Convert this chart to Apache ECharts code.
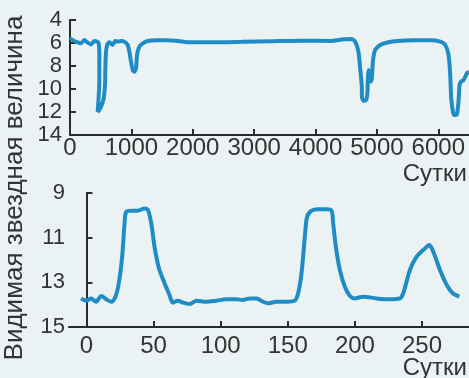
<!DOCTYPE html>
<html>
<head>
<meta charset="utf-8">
<script src="https://cdn.jsdelivr.net/npm/echarts@6/dist/echarts.min.js"></script>
<style>
html,body{margin:0;padding:0;background:#ebf2f4;}
#chart{width:469px;height:378px;}
</style>
</head>
<body>
<div id="chart"></div>
<script>
// Top panel: days vs apparent magnitude
const topDays = [0,16,70,125,179,234,288,342,397,462,478,478,462,451,478,521,549,570,576,587,608,641,696,734,777,831,886,940,967,994,1022,1049,1076,1092,1130,1185,1266,1402,1565,1728,1837,1945,2108,2380,2800,3300,3800,4238,4455,4591,4645,4699,4727,4755,4755,4781,4825,4846,4852,4862,4879,4901,4918,4934,4971,5053,5189,5325,5596,5868,6031,6113,6167,6194,6210,6238,6259,6303,6329,6346,6368,6411,6470,6500];
const topMag  = [5.7,5.65,5.83,5.94,6.03,5.74,5.97,6.12,5.83,5.94,7.04,9.36,11.1,11.97,11.83,11.33,10.8,9.65,8.2,6.75,6.12,5.94,6.17,5.83,5.88,5.83,5.88,6.17,6.75,7.62,8.35,8.5,8.2,7.04,6.32,6.03,5.83,5.77,5.77,5.8,5.88,5.94,5.94,5.94,5.9,5.85,5.8,5.83,5.68,5.65,5.88,6.75,8.2,9.94,10.67,11.04,10.96,10.23,9.07,8.35,8.93,9.36,9.07,7.62,6.61,6.17,5.94,5.83,5.77,5.77,5.88,6.17,7.04,8.78,10.8,11.97,12.26,12.2,11.1,9.65,9.36,9.22,8.6,8.5];
const topXTicks = [0,1000,2000,3000,4000,5000,6000];

// Bottom panel
const botDays = [-4,0,3.5,7.2,11,14.7,18.4,21.6,24.1,26.6,28.4,29.6,33.3,38.3,43.3,45.8,48.3,50.7,54,58.2,61.9,64.4,68.1,71.9,76.9,81.9,89.3,96.8,104.3,111.7,116.6,121.6,126.6,131.6,135.3,141.6,149,155.2,157.7,160.2,162.7,164.4,167.7,172.6,178.9,182.6,183.8,185.8,188.8,192.5,196.3,200,206.2,216.2,226.1,233.6,236,241,246,252.2,255.4,258.4,263.4,268.4,272.9,277.8];
const botMag  = [13.72,13.82,13.72,13.87,13.61,13.76,13.87,13.64,13.04,11.85,10.36,9.84,9.79,9.79,9.69,9.76,10.36,11.4,12.37,13.04,13.57,13.91,13.82,13.91,13.97,13.82,13.87,13.82,13.76,13.76,13.79,13.72,13.72,13.87,13.94,13.87,13.87,13.82,13.49,12.6,10.96,10.06,9.79,9.73,9.73,9.79,10.36,11.4,12.45,13.2,13.61,13.72,13.64,13.72,13.76,13.72,13.49,12.45,11.85,11.48,11.33,11.63,12.45,13.12,13.49,13.64];
const botXTicks = [0,50,100,150,200,250];

const yTitle = 'Видимая звездная величина';
const xTitle = 'Сутки';

const lineColor = '#1f8cc6';
const axisColor = '#2b2b2b';
const textColor = '#333333';
const font = 'Liberation Sans, Arial, sans-serif';

function zip(a,b){ return a.map((v,i)=>[v,b[i]]); }
const plain = v => String(v);

const axisLineStyle = {show:true, lineStyle:{color:axisColor, width:2}};
const tickStyle = {show:true, inside:true, length:6, lineStyle:{color:axisColor, width:2}};

const chart = echarts.init(document.getElementById('chart'));
chart.setOption({
  backgroundColor:'#ebf2f4',
  animation:false,
  grid:[
    {left:70, right:0, top:20, height:115},
    {left:69, right:0, top:193, height:134}
  ],
  xAxis:[
    {type:'value', gridIndex:0, min:0, max:6500,
     axisLine:axisLineStyle, axisTick:Object.assign({},tickStyle,{customValues:topXTicks}),
     splitLine:{show:false},
     axisLabel:{customValues:topXTicks, formatter:plain, color:textColor, fontSize:24, fontFamily:font, margin:1}},
    {type:'value', gridIndex:1, min:-13, max:285,
     axisLine:axisLineStyle, axisTick:Object.assign({},tickStyle,{customValues:botXTicks}),
     splitLine:{show:false},
     axisLabel:{customValues:botXTicks, formatter:plain, color:textColor, fontSize:24, fontFamily:font, margin:7}}
  ],
  yAxis:[
    {type:'value', gridIndex:0, min:4, max:14, interval:2, inverse:true,
     axisLine:axisLineStyle, axisTick:tickStyle, splitLine:{show:false},
     axisLabel:{formatter:plain, color:textColor, fontSize:22, fontFamily:font, margin:8}},
    {type:'value', gridIndex:1, min:9, max:15, interval:2, inverse:true,
     axisLine:axisLineStyle, axisTick:tickStyle, splitLine:{show:false},
     axisLabel:{formatter:plain, color:textColor, fontSize:22, fontFamily:font, margin:4}}
  ],
  series:[
    {type:'line', xAxisIndex:0, yAxisIndex:0, data:zip(topDays,topMag), showSymbol:false,
     smooth:0.2, lineStyle:{color:lineColor, width:4}},
    {type:'line', xAxisIndex:1, yAxisIndex:1, data:zip(botDays,botMag), showSymbol:false,
     smooth:0.3, lineStyle:{color:lineColor, width:4}}
  ],
  graphic:[
    {type:'text', x:15, y:188, rotation:Math.PI/2,
     style:{text:yTitle, fill:textColor, font:'26px ' + font, align:'center', verticalAlign:'middle'}},
    {type:'text', x:467, y:174,
     style:{text:xTitle, fill:textColor, font:'24px ' + font, align:'right', verticalAlign:'middle'}},
    {type:'text', x:467, y:368,
     style:{text:xTitle, fill:textColor, font:'24px ' + font, align:'right', verticalAlign:'middle'}}
  ]
});
</script>
</body>
</html>
